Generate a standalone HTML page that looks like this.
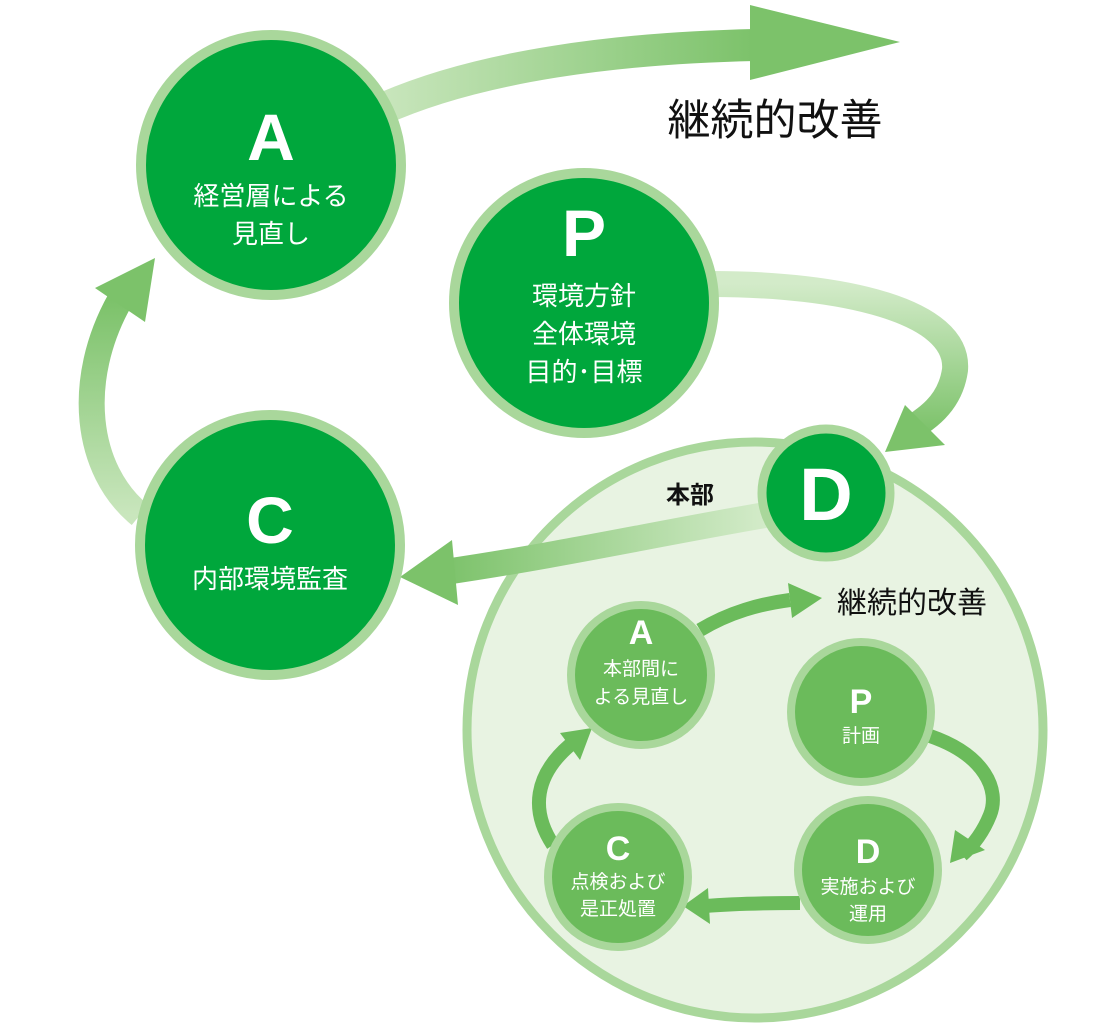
<!DOCTYPE html>
<html><head><meta charset="utf-8"><style>
html,body{margin:0;padding:0;background:#fff;}
svg{display:block;}
text{font-family:"Liberation Sans","Noto Sans CJK JP",sans-serif;}
</style></head><body>
<svg width="1120" height="1026" viewBox="0 0 1120 1026" xmlns="http://www.w3.org/2000/svg">
<defs>
<linearGradient id="g1" x1="0" x2="1" y1="0" y2="0"><stop offset="0" stop-color="#c9e6bd"/><stop offset="1" stop-color="#7cc26a"/></linearGradient>
<linearGradient id="g2" x1="0" x2="0" y1="0" y2="1"><stop offset="0" stop-color="#d3ebc9"/><stop offset="1" stop-color="#7cc26a"/></linearGradient>
<linearGradient id="g3" x1="1" x2="0" y1="0" y2="0"><stop offset="0" stop-color="#d3ebc9"/><stop offset="1" stop-color="#7cc26a"/></linearGradient>
<linearGradient id="g4" x1="0" x2="0" y1="1" y2="0"><stop offset="0" stop-color="#c9e6bd"/><stop offset="1" stop-color="#7cc26a"/></linearGradient>
</defs>
<circle cx="755" cy="730" r="288" fill="#e8f3e2" stroke="#a9d79b" stroke-width="9"/>
<path d="M380,110 C480,65 620,48 755,45" fill="none" stroke="url(#g1)" stroke-width="32"/>
<polygon points="750,5 900,42 750,80" fill="#7cc26a"/>
<text x="775" y="135" font-size="43" text-anchor="middle" fill="#111">継続的改善</text>
<path d="M712,284 C840,284 960,310 955,370 C950,405 925,420 905,432" fill="none" stroke="url(#g2)" stroke-width="26"/>
<polygon points="885,452 905,405 945,445" fill="#7cc26a"/>
<path d="M140,515 C85,470 75,380 120,300" fill="none" stroke="url(#g4)" stroke-width="26"/>
<polygon points="155,258 95,288 145,322" fill="#7cc26a"/>
<path d="M765,515 C650,535 560,555 445,572" fill="none" stroke="url(#g3)" stroke-width="26"/>
<polygon points="400,577 452,540 458,605" fill="#7cc26a"/>
<circle cx="271" cy="165" r="130" fill="#00a73c" stroke="#a9d79b" stroke-width="10"/>
<text x="271" y="160" font-size="66" font-weight="bold" fill="#fff" text-anchor="middle">A</text>
<text x="271" y="205" font-size="26" fill="#fff" text-anchor="middle">経営層による</text>
<text x="271" y="243" font-size="26" fill="#fff" text-anchor="middle">見直し</text>
<circle cx="584" cy="303" r="130" fill="#00a73c" stroke="#a9d79b" stroke-width="10"/>
<text x="584" y="256" font-size="66" font-weight="bold" fill="#fff" text-anchor="middle">P</text>
<text x="584" y="305" font-size="26" fill="#fff" text-anchor="middle">環境方針</text>
<text x="584" y="343" font-size="26" fill="#fff" text-anchor="middle">全体環境</text>
<text x="584" y="381" font-size="26" fill="#fff" text-anchor="middle">目的･目標</text>
<circle cx="270" cy="545" r="130" fill="#00a73c" stroke="#a9d79b" stroke-width="10"/>
<text x="270" y="543" font-size="66" font-weight="bold" fill="#fff" text-anchor="middle">C</text>
<text x="270" y="588" font-size="26" fill="#fff" text-anchor="middle">内部環境監査</text>
<circle cx="826" cy="493" r="64" fill="#00a73c" stroke="#a9d79b" stroke-width="9"/>
<text x="826" y="520" font-size="74" font-weight="bold" fill="#fff" text-anchor="middle">D</text>
<text x="690" y="503" font-size="24" font-weight="bold" fill="#111" text-anchor="middle">本部</text>
<path d="M700,630 C730,612 760,604 790,600" fill="none" stroke="#6bbb5b" stroke-width="14"/>
<polygon points="822,598 788,583 792,618" fill="#6bbb5b"/>
<path d="M930,736 C985,755 1000,790 990,815 C982,835 970,848 962,855" fill="none" stroke="#6bbb5b" stroke-width="14"/>
<polygon points="950,863 955,830 985,850" fill="#6bbb5b"/>
<path d="M800,903 C760,903 730,904 705,906" fill="none" stroke="#6bbb5b" stroke-width="14"/>
<polygon points="683,906 708,888 710,924" fill="#6bbb5b"/>
<path d="M553,845 C530,810 535,775 570,745" fill="none" stroke="#6bbb5b" stroke-width="14"/>
<polygon points="592,728 560,733 580,760" fill="#6bbb5b"/>
<text x="912" y="613" font-size="30" fill="#111" text-anchor="middle">継続的改善</text>
<circle cx="641" cy="675" r="70" fill="#6bbb5b" stroke="#a9d79b" stroke-width="8"/>
<text x="641" y="644" font-size="34" font-weight="bold" fill="#fff" text-anchor="middle">A</text>
<text x="641" y="675" font-size="19" fill="#fff" text-anchor="middle">本部間に</text>
<text x="641" y="703" font-size="19" fill="#fff" text-anchor="middle">よる見直し</text>
<circle cx="861" cy="712" r="70" fill="#6bbb5b" stroke="#a9d79b" stroke-width="8"/>
<text x="861" y="713" font-size="34" font-weight="bold" fill="#fff" text-anchor="middle">P</text>
<text x="861" y="742" font-size="19" fill="#fff" text-anchor="middle">計画</text>
<circle cx="868" cy="870" r="70" fill="#6bbb5b" stroke="#a9d79b" stroke-width="8"/>
<text x="868" y="863" font-size="34" font-weight="bold" fill="#fff" text-anchor="middle">D</text>
<text x="868" y="893" font-size="19" fill="#fff" text-anchor="middle">実施および</text>
<text x="868" y="920" font-size="19" fill="#fff" text-anchor="middle">運用</text>
<circle cx="618" cy="877" r="70" fill="#6bbb5b" stroke="#a9d79b" stroke-width="8"/>
<text x="618" y="860" font-size="34" font-weight="bold" fill="#fff" text-anchor="middle">C</text>
<text x="618" y="888" font-size="19" fill="#fff" text-anchor="middle">点検および</text>
<text x="618" y="915" font-size="19" fill="#fff" text-anchor="middle">是正処置</text>
</svg>
</body></html>
